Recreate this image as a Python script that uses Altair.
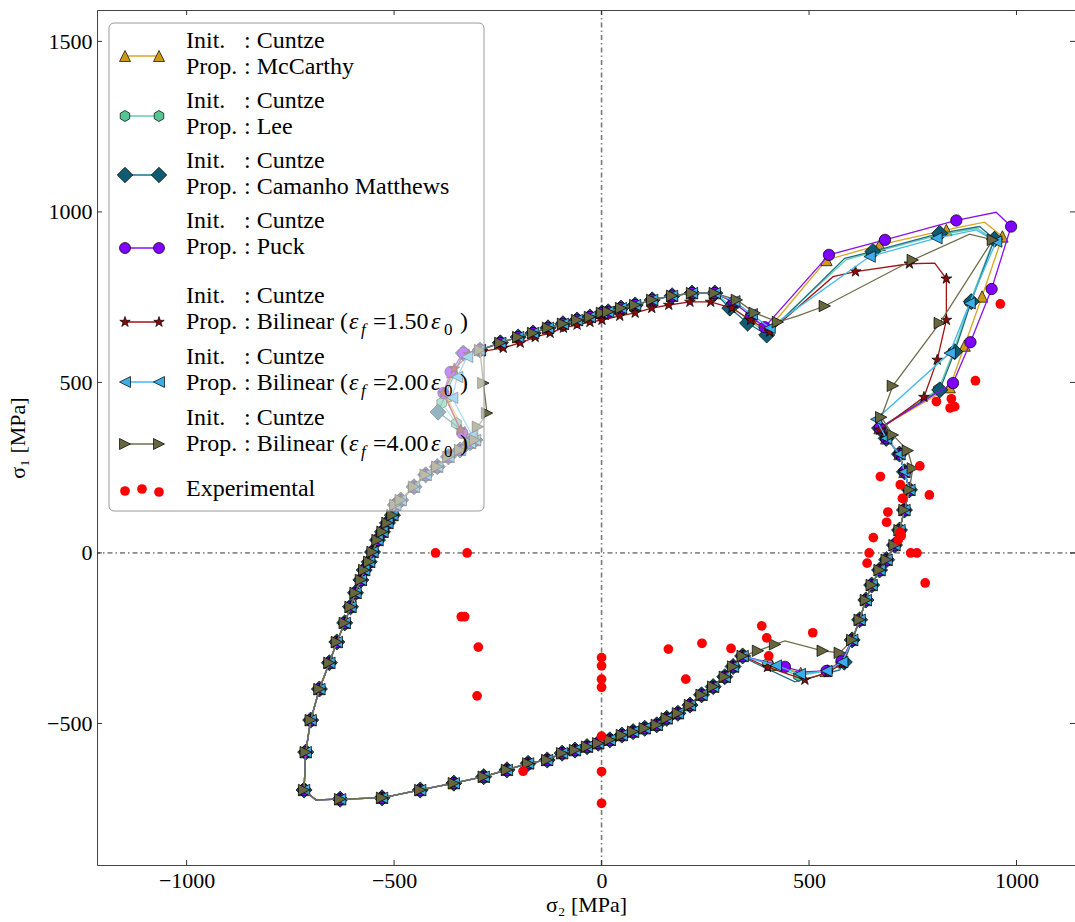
import math
import altair as alt
import pandas as pd

# ---------------- axes ----------------
X_DOMAIN = [-1216, 1141]
Y_DOMAIN = [-915, 1592]
X_TICKS = [-1000, -500, 0, 500, 1000]
Y_TICKS = [-500, 0, 500, 1000, 1500]
PLOT_W, PLOT_H = 978, 855
PAD_L, PAD_T = 97, 10
FONT = "'Liberation Serif', 'Times New Roman', Times, serif"

# ---------------- envelope data (x=sigma2, y=sigma1, m=marker shown) ----------------
TOP = [(-293, 595, 1), (-244, 616, 1), (-201, 633, 1), (-165, 645, 1), (-129, 660, 1), (-93, 672, 1),
       (-59, 683, 1), (-28, 692, 1), (1, 704, 1), (16, 707, 1), (47, 718, 1), (81, 727, 1),
       (122, 742, 1), (170, 754, 1), (218, 762, 1), (273, 762, 1)]
TOP_RED = [(-290, 590, 1), (-237, 601, 1), (-196, 616, 1), (-160, 633, 1), (-124, 645, 1), (-92, 660, 1),
           (-59, 669, 1), (-28, 677, 1), (1, 683, 1), (44, 695, 1), (81, 704, 1), (121, 718, 1),
           (162, 727, 1), (213, 736, 1), (263, 736, 1)]
RIGHT_S = [(742, 185, 1), (730, 126, 1), (718, 67, 1), (706, 23, 1), (687, -20, 1), (670, -50, 1),
           (651, -94, 1), (637, -138, 1), (622, -196, 1), (604, -255, 1)]
BOTTOM = [(317, -333, 1), (297, -363, 1), (269, -392, 1), (241, -416, 1), (213, -446, 1), (184, -470, 1),
          (157, -485, 1), (133, -504, 1), (104, -514, 1), (76, -524, 1), (49, -534, 1), (20, -548, 1),
          (-8, -558, 1), (-35, -568, 1), (-64, -578, 1), (-95, -587, 1), (-131, -607, 1), (-177, -617, 1),
          (-228, -636, 1), (-284, -656, 1), (-356, -675, 1), (-437, -695, 1), (-529, -718, 1),
          (-630, -722, 1), (-689, -724, 0), (-717, -695, 1)]
LEFT = [(-713, -584, 1), (-701, -490, 1), (-680, -399, 1), (-656, -322, 1), (-638, -261, 1), (-619, -205, 1),
        (-605, -158, 1), (-593, -117, 1), (-580, -79, 1), (-572, -50, 1), (-560, -26, 1), (-552, 3, 1),
        (-540, 38, 1), (-528, 62, 1), (-516, 88, 1), (-504, 111, 1), (-497, 141, 1), (-484, 155, 1),
        (-452, 194, 1), (-424, 229, 1), (-396, 253, 1), (-369, 282, 1), (-341, 302, 1), (-317, 323, 1),
        (-305, 331, 1)]

LOOP = {
    "mcc": [(318, 735, 1), (360, 695, 1), (398, 650, 1), (542, 859, 1), (670, 903, 1), (831, 947, 1),
            (923, 970, 0), (966, 928, 1), (917, 752, 1), (875, 608, 1), (839, 486, 1), (670, 366, 1),
            (686, 336, 1), (718, 290, 1), (730, 238, 1)],
    "lee": [(312, 725, 1), (355, 682, 1), (398, 645, 1), (590, 860, 0), (650, 880, 1), (812, 932, 1),
            (905, 952, 0), (945, 918, 1), (888, 735, 1), (848, 590, 1), (812, 480, 1), (670, 366, 1),
            (686, 336, 1), (718, 290, 1), (730, 238, 1)],
    "cam": [(309, 718, 1), (352, 674, 1), (398, 639, 1), (586, 864, 0), (654, 884, 1), (815, 937, 1),
            (911, 957, 0), (947, 920, 1), (891, 737, 1), (851, 590, 1), (815, 478, 1), (670, 366, 1),
            (686, 336, 1), (718, 290, 1), (730, 238, 1)],
    "puck": [(318, 735, 1), (360, 695, 1), (393, 662, 1), (548, 874, 1), (683, 918, 1), (855, 975, 1),
             (951, 999, 0), (987, 957, 1), (940, 774, 1), (889, 618, 1), (847, 498, 1), (670, 366, 1),
             (686, 336, 1), (718, 290, 1), (730, 238, 1)],
    "b15": [(314, 718, 1), (359, 683, 1), (405, 648, 1), (558, 810, 0), (612, 825, 1), (742, 848, 1),
            (803, 850, 0), (831, 804, 1), (831, 683, 1), (809, 566, 1), (777, 457, 1), (670, 361, 1),
            (686, 336, 1), (718, 290, 1), (730, 238, 1)],
    "b20": [(320, 738, 1), (362, 700, 1), (405, 660, 1), (646, 869, 1), (807, 923, 1), (903, 947, 0),
            (951, 913, 1), (887, 732, 1), (839, 586, 1), (662, 392, 1), (686, 336, 1), (718, 290, 1),
            (730, 238, 1)],
    "b40": [(326, 742, 1), (369, 704, 1), (425, 677, 1), (473, 695, 0), (538, 724, 1), (750, 859, 1),
            (887, 935, 0), (943, 918, 1), (815, 674, 1), (702, 490, 1), (674, 398, 1), (702, 346, 1),
            (738, 300, 1), (750, 248, 1)],
}
DIP = {
    "mcc": [(578, -318, 1), (540, -346, 1), (480, -352, 1), (410, -328, 1), (340, -302, 1)],
    "lee": [(580, -320, 1), (545, -345, 1), (475, -360, 1), (400, -325, 1), (340, -302, 1)],
    "cam": [(585, -320, 1), (574, -343, 0), (466, -378, 0), (350, -311, 0), (340, -302, 1)],
    "puck": [(578, -318, 1), (542, -346, 1), (485, -349, 0), (442, -334, 1), (340, -302, 1)],
    "b15": [(580, -325, 1), (545, -350, 1), (490, -372, 1), (400, -335, 1), (340, -302, 1)],
    "b20": [(580, -320, 1), (542, -346, 1), (478, -355, 1), (420, -330, 1), (340, -302, 1)],
    "b40": [(574, -293, 1), (533, -287, 1), (442, -258, 0), (418, -268, 1), (377, -287, 1), (340, -302, 1)],
}
CUSP = {
    "mcc": [(-330, 355, 1), (-375, 460, 1), (-360, 530, 1), (-330, 585, 1)],
    "lee": [(-350, 380, 1), (-385, 440, 1), (-360, 530, 1), (-330, 585, 1)],
    "cam": [(-394, 413, 1), (-333, 586, 1)],
    "puck": [(-336, 352, 1), (-381, 469, 1), (-364, 531, 1), (-333, 586, 1)],
    "b15": [(-340, 360, 1), (-381, 469, 1), (-355, 540, 1), (-320, 582, 1)],
    "b20": [(-312, 345, 1), (-360, 455, 1), (-348, 516, 1), (-324, 575, 1)],
    "b40": [(-298, 370, 1), (-276, 410, 1), (-285, 498, 1)],
}

EXP_X = [-400, -324, -338, -330, -297, -300, 0, 0, 0, 0, 0, 0, 0, -189, 161, 203, 242, 312, 386, 398,
         403, 509, 961, 901, 807, 843, 840, 851, 767, 672, 720, 725, 690, 687, 720, 722, 715, 655,
         645, 640, 745, 760, 790, 780]
EXP_Y = [0, 0, -187, -187, -276, -419, -307, -331, -370, -394, -537, -641, -734, -640, -282, -370,
         -265, -280, -214, -249, -302, -234, 730, 505, 444, 452, 425, 429, 255, 224, 200, 160, 120,
         90, 60, 50, 38, 45, 0, -30, 0, 0, 170, -88]

SERIES = ["mcc", "lee", "cam", "puck", "b15", "b20", "b40"]
LEG_PROP = ["McCarthy", "Lee", "Camanho Matthews", "Puck", "Bilinear (", "Bilinear (", "Bilinear ("]
LEG_EPS = ["", "", "", "", "1.50", "2.00", "4.00"]

# ---------------- styles ----------------
def star_path():
    pts = []
    for k in range(10):
        r = 1.0 if k % 2 == 0 else 0.382
        a = math.pi / 2 - k * math.pi / 5
        pts.append(f"{r*math.cos(a):.3f},{-r*math.sin(a):.3f}")
    return "M" + "L".join(pts) + "Z"

SHAPES = {
    "mcc": "M0,-1L1,1L-1,1Z",
    "lee": "M0,-1L0.866,-0.5L0.866,0.5L0,1L-0.866,0.5L-0.866,-0.5Z",
    "cam": "M0,-1.414L1.414,0L0,1.414L-1.414,0Z",
    "puck": "circle",
    "b15": star_path(),
    "b20": "M-1,0L1,-1L1,1Z",
    "b40": "M1,0L-1,-1L-1,1Z",
}
LINE_C = {"mcc": "#DAA520", "lee": "#66CDAA", "cam": "#1a7088", "puck": "#8b10f0",
          "b15": "#a01515", "b20": "#45b8f0", "b40": "#6e6e4c"}
FILL_C = {"mcc": "#CC9A17", "lee": "#55c592", "cam": "#0f5b73", "puck": "#8000ff",
          "b15": "#8b0a0a", "b20": "#3aaee8", "b40": "#66663f"}
MSIZE = 130

xs = alt.Scale(domain=X_DOMAIN, nice=False, zero=False)
ys = alt.Scale(domain=Y_DOMAIN, nice=False, zero=False)
X_AX = alt.Axis(values=X_TICKS, format="d", title="σ₂ [MPa]", ticks=False, domain=False, grid=False,
                labelFont=FONT, labelFontSize=22, labelColor="black", labelPadding=5,
                titleFont=FONT, titleFontSize=22, titleFontWeight="normal", titleColor="black",
                titlePadding=3)
Y_AX = alt.Axis(values=Y_TICKS, format="d", title="σ₁ [MPa]", ticks=False, domain=False, grid=False,
                labelFont=FONT, labelFontSize=22, labelColor="black", labelPadding=5,
                titleFont=FONT, titleFontSize=22, titleFontWeight="normal", titleColor="black",
                titlePadding=17)

def X(field="x"):
    return alt.X(f"{field}:Q", scale=xs, axis=X_AX)

def Y(field="y"):
    return alt.Y(f"{field}:Q", scale=ys, axis=Y_AX)

def px2x(px):
    return X_DOMAIN[0] + (px - PAD_L) / PLOT_W * (X_DOMAIN[1] - X_DOMAIN[0])

def py2y(py):
    return Y_DOMAIN[1] - (py - PAD_T) / PLOT_H * (Y_DOMAIN[1] - Y_DOMAIN[0])

layers = []

# zero lines
layers.append(alt.Chart(pd.DataFrame({"x": [0]})).mark_rule(
    color="#7a7a7a", strokeWidth=1.6, strokeDash=[5, 3, 1.5, 3]).encode(x=X()))
layers.append(alt.Chart(pd.DataFrame({"y": [0]})).mark_rule(
    color="#333333", strokeWidth=1, strokeDash=[5, 3, 1.5, 3]).encode(y=Y()))

# series
for k in SERIES:
    top = TOP_RED if k == "b15" else TOP
    pts = top + LOOP[k] + RIGHT_S + DIP[k] + BOTTOM + LEFT + CUSP[k] + [(top[0][0], top[0][1], 0)]
    df = pd.DataFrame(pts, columns=["x", "y", "m"])
    df["i"] = range(len(df))
    base = alt.Chart(df)
    layers.append(base.mark_line(color=LINE_C[k], strokeWidth=1.3).encode(x=X(), y=Y(), order="i:Q"))
    layers.append(base.transform_filter("datum.m == 1").mark_point(
        shape=SHAPES[k], filled=True, fill=FILL_C[k], stroke="black", strokeWidth=0.7,
        size=MSIZE, opacity=1, fillOpacity=1).encode(x=X(), y=Y()))

# experimental
layers.append(alt.Chart(pd.DataFrame({"x": EXP_X, "y": EXP_Y})).mark_point(
    shape="circle", filled=True, color="#ff0000", size=95, opacity=1).encode(x=X(), y=Y()))

# inward ticks
xt = pd.DataFrame({"x": X_TICKS})
yt = pd.DataFrame({"y": Y_TICKS})
for y1, y2 in [(PLOT_H, PLOT_H - 5), (0, 5)]:
    layers.append(alt.Chart(xt).mark_rule(color="#333", strokeWidth=1).encode(
        x=X(), y=alt.value(y1), y2=alt.value(y2)))
for x1, x2 in [(0, 5), (PLOT_W, PLOT_W - 5)]:
    layers.append(alt.Chart(yt).mark_rule(color="#333", strokeWidth=1).encode(
        y=Y(), x=alt.value(x1), x2=alt.value(x2)))

# ---------------- legend ----------------
frame = pd.DataFrame({"x": [px2x(109)], "x2": [px2x(484)], "y": [py2y(23)], "y2": [py2y(511)]})
layers.append(alt.Chart(frame).mark_rect(cornerRadius=5, fill="white", fillOpacity=0.55,
                                         stroke="#999999", strokeWidth=1).encode(
    x=X(), x2="x2:Q", y=Y(), y2="y2:Q"))

SYM_Y = [56, 116, 175, 248, 322, 382, 444]
BASE1 = [48, 108, 168, 228, 303, 364, 425]
BASE2 = [73.5, 134, 194, 254, 329, 390, 451]

rows, mrows = [], []
for j, k in enumerate(SERIES):
    rows.append({"x": px2x(125), "x2": px2x(159), "y": py2y(SYM_Y[j]), "c": LINE_C[k]})
    for px in (125, 159):
        mrows.append({"x": px2x(px), "y": py2y(SYM_Y[j]), "s": SHAPES[k], "f": FILL_C[k]})
layers.append(alt.Chart(pd.DataFrame(rows)).mark_rule(strokeWidth=1.3).encode(
    x=X(), x2="x2:Q", y=Y(), color=alt.Color("c:N", scale=None)))
layers.append(alt.Chart(pd.DataFrame(mrows)).mark_point(
    filled=True, stroke="black", strokeWidth=0.7, size=121, opacity=1).encode(
    x=X(), y=Y(), shape=alt.Shape("s:N", scale=None), fill=alt.Fill("f:N", scale=None)))
layers.append(alt.Chart(pd.DataFrame({"x": [px2x(125), px2x(142), px2x(159)],
                                      "y": [py2y(491), py2y(489), py2y(492)]})).mark_point(
    shape="circle", filled=True, color="#ff0000", size=95, opacity=1).encode(x=X(), y=Y()))

roman, italic, sub = [], [], []
for j in range(len(SERIES)):
    b1, b2 = BASE1[j], BASE2[j]
    roman += [{"x": px2x(186), "y": py2y(b1), "t": "Init."},
              {"x": px2x(244), "y": py2y(b1), "t": ": Cuntze"},
              {"x": px2x(186), "y": py2y(b2), "t": "Prop."},
              {"x": px2x(244), "y": py2y(b2), "t": ": " + LEG_PROP[j]}]
    if LEG_EPS[j]:
        italic += [{"x": px2x(349), "y": py2y(b2), "t": "ε"},
                   {"x": px2x(431), "y": py2y(b2), "t": "ε"}]
        sub += [{"x": px2x(361), "y": py2y(b2 + 6), "t": "f", "st": "italic"},
                {"x": px2x(444), "y": py2y(b2 + 6), "t": "0", "st": "normal"}]
        roman += [{"x": px2x(373), "y": py2y(b2), "t": "=" + LEG_EPS[j]},
                  {"x": px2x(460), "y": py2y(b2), "t": ")"}]
roman.append({"x": px2x(186), "y": py2y(496), "t": "Experimental"})

def text_layer(rows_, size, style):
    return alt.Chart(pd.DataFrame(rows_)).mark_text(
        align="left", baseline="alphabetic", font=FONT, fontSize=size, fontStyle=style,
        color="black").encode(x=X(), y=Y(), text="t:N")

layers.append(text_layer(roman, 24, "normal"))
layers.append(text_layer(italic, 24, "italic"))
layers.append(text_layer([r for r in sub if r["st"] == "italic"], 17, "italic"))
layers.append(text_layer([r for r in sub if r["st"] == "normal"], 17, "normal"))

chart = alt.layer(*layers).properties(
    width=PLOT_W, height=PLOT_H,
    autosize=alt.AutoSizeParams(type="none"),
    padding={"left": PAD_L, "top": PAD_T, "right": 0, "bottom": 57},
    background="white",
).configure_view(stroke="#444444", strokeWidth=1)

chart.save("out.html", embed_options={"renderer": "svg", "actions": False})
